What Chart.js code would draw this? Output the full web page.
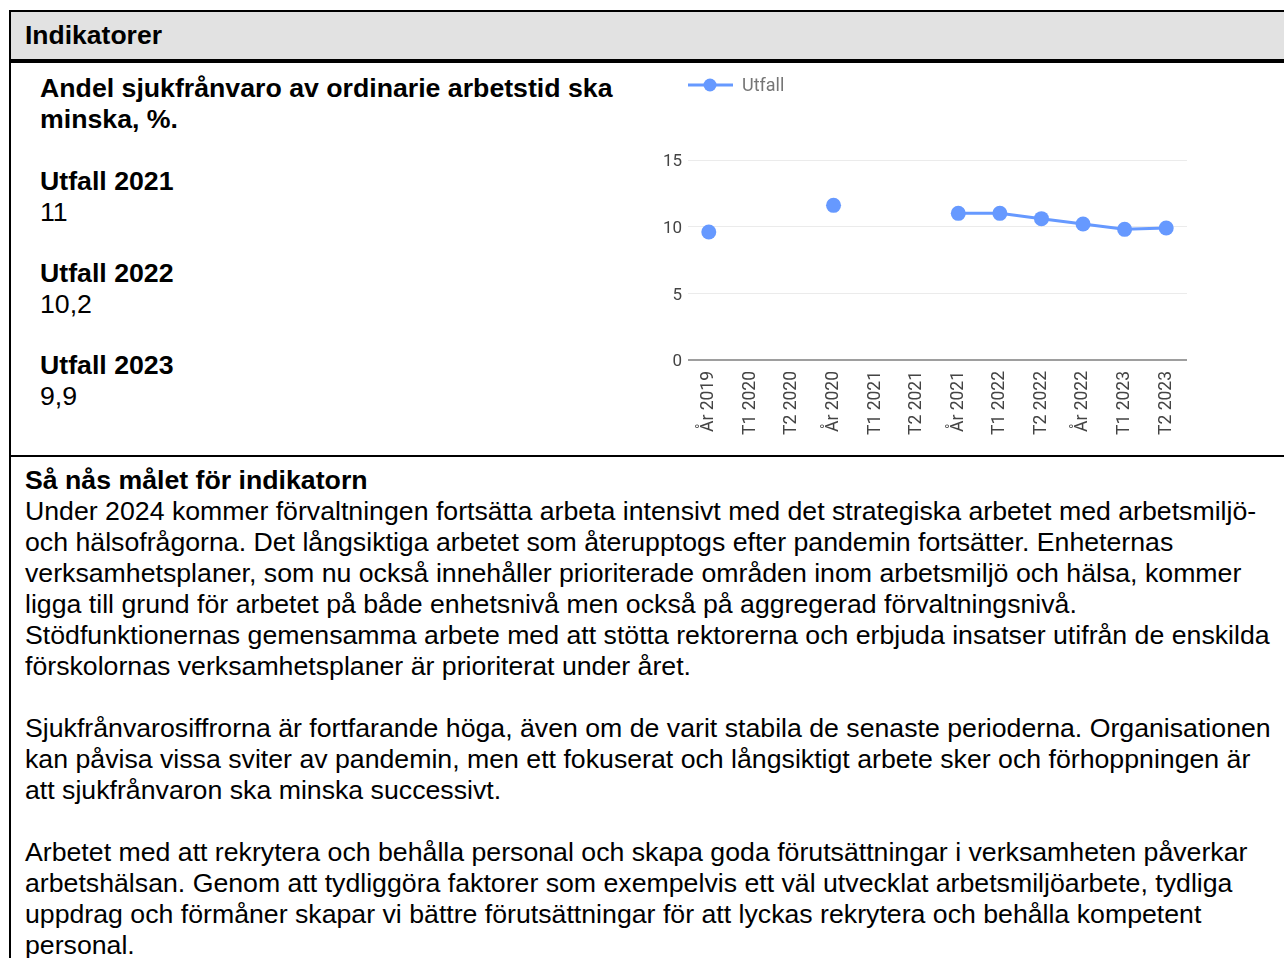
<!DOCTYPE html>
<html>
<head>
<meta charset="utf-8">
<script src="https://cdn.jsdelivr.net/npm/chart.js@4"></script>
<style>
  html, body { margin: 0; padding: 0; background: #fff; width: 1284px; height: 958px; overflow: hidden; }
  body { font-family: "Liberation Sans", Arial, sans-serif; color: #000; position: relative; }
  .frame { position: absolute; left: 9px; top: 10px; width: 1400px; height: 1000px;
           border-left: 2px solid #000; border-top: 2px solid #000; }
  .head { position: absolute; left: 0; top: 0; width: 100%; height: 47px; background: #e2e2e2;
          border-bottom: 4px solid #000; }
  .head span { position: absolute; left: 14px; top: 8px; font-weight: bold; font-size: 26.5px; }
  .sep { position: absolute; left: 0; top: 443px; width: 100%; border-top: 2px solid #000; }
  .t { position: absolute; white-space: nowrap; font-size: 26.7px; line-height: 31px; }
  .b { font-weight: bold; }
  #wrap { position: absolute; left: 640px; top: 65px; width: 560px; height: 385px; }
</style>
</head>
<body>
<div class="frame">
  <div class="head"><span>Indikatorer</span></div>
  <div class="sep"></div>
</div>

<div class="t b" style="left:40px; top:73px;">Andel sjukfrånvaro av ordinarie arbetstid ska<br>minska, %.</div>
<div class="t" style="left:40px; top:166px;"><span class="b">Utfall 2021</span><br>11</div>
<div class="t" style="left:40px; top:258px;"><span class="b">Utfall 2022</span><br>10,2</div>
<div class="t" style="left:40px; top:350px;"><span class="b">Utfall 2023</span><br>9,9</div>

<div class="t" style="left:25px; top:465px;">
<span class="b">Så nås målet för indikatorn</span><br>
Under 2024 kommer förvaltningen fortsätta arbeta intensivt med det strategiska arbetet med arbetsmiljö-<br>
och hälsofrågorna. Det långsiktiga arbetet som återupptogs efter pandemin fortsätter. Enheternas<br>
verksamhetsplaner, som nu också innehåller prioriterade områden inom arbetsmiljö och hälsa, kommer<br>
ligga till grund för arbetet på både enhetsnivå men också på aggregerad förvaltningsnivå.<br>
Stödfunktionernas gemensamma arbete med att stötta rektorerna och erbjuda insatser utifrån de enskilda<br>
förskolornas verksamhetsplaner är prioriterat under året.<br>
<br>
Sjukfrånvarosiffrorna är fortfarande höga, även om de varit stabila de senaste perioderna. Organisationen<br>
kan påvisa vissa sviter av pandemin, men ett fokuserat och långsiktigt arbete sker och förhoppningen är<br>
att sjukfrånvaron ska minska successivt.<br>
<br>
Arbetet med att rekrytera och behålla personal och skapa goda förutsättningar i verksamheten påverkar<br>
arbetshälsan. Genom att tydliggöra faktorer som exempelvis ett väl utvecklat arbetsmiljöarbete, tydliga<br>
uppdrag och förmåner skapar vi bättre förutsättningar för att lyckas rekrytera och behålla kompetent<br>
personal.
</div>

<div id="wrap"><canvas id="chart"></canvas></div>

<script>
const periods = ['År 2019', 'T1 2020', 'T2 2020', 'År 2020', 'T1 2021', 'T2 2021',
                 'År 2021', 'T1 2022', 'T2 2022', 'År 2022', 'T1 2023', 'T2 2023']
const utfall = [9.6, null, null, 11.6, null, null, 11.0, 11.0, 10.6, 10.2, 9.8, 9.9]
const yTicks = [0, 5, 10, 15]

const blue = '#6699ff'

// legend like the google one: short line with a dot, then the label
const legendPlugin = {
  id: 'lineLegend',
  afterDraw (chart) {
    const ctx = chart.ctx
    const ds = chart.data.datasets[0]
    const x = chart.chartArea.left
    const y = 20
    ctx.save()
    ctx.strokeStyle = ds.borderColor
    ctx.lineWidth = 3
    ctx.beginPath()
    ctx.moveTo(x, y)
    ctx.lineTo(x + 45, y)
    ctx.stroke()
    ctx.fillStyle = ds.borderColor
    ctx.beginPath()
    ctx.arc(x + 22, y, 6.5, 0, Math.PI * 2)
    ctx.fill()
    ctx.fillStyle = '#757575'
    ctx.font = '18px Roboto'
    ctx.textBaseline = 'middle'
    ctx.fillText(ds.label, x + 54, y + 1)
    ctx.restore()
  }
}

new Chart(document.getElementById('chart'), {
  type: 'line',
  data: {
    labels: periods,
    datasets: [{
      label: 'Utfall',
      data: utfall,
      borderColor: blue,
      backgroundColor: blue,
      borderWidth: 3,
      pointRadius: 7.5,
      pointBorderWidth: 0,
      pointHoverRadius: 7.5,
      spanGaps: false
    }]
  },
  options: {
    responsive: true,
    maintainAspectRatio: false,
    animation: false,
    layout: { padding: { top: 95, right: 13, left: 0, bottom: 0 } },
    plugins: { legend: { display: false }, tooltip: { enabled: false } },
    scales: {
      x: {
        offset: true,
        grid: { display: false },
        border: { display: false },
        ticks: {
          minRotation: 90, maxRotation: 90, autoSkip: false, padding: 3,
          color: '#444', font: { family: 'Roboto', size: 17.5 }
        },
        afterFit (s) { s.height = 90 }
      },
      y: {
        min: 0, max: 15,
        afterBuildTicks (s) { s.ticks = yTicks.map(v => ({ value: v })) },
        grid: {
          drawTicks: false,
          color: c => (c.tick && c.tick.value === 0 ? '#9e9e9e' : '#ebebeb'),
          lineWidth: c => (c.tick && c.tick.value === 0 ? 2 : 1)
        },
        border: { display: false },
        ticks: { padding: 6, labelOffset: 2, color: '#444', font: { family: 'Roboto', size: 17 } },
        afterFit (s) { s.width = 48 }
      }
    }
  },
  plugins: [legendPlugin]
})
</script>
</body>
</html>
